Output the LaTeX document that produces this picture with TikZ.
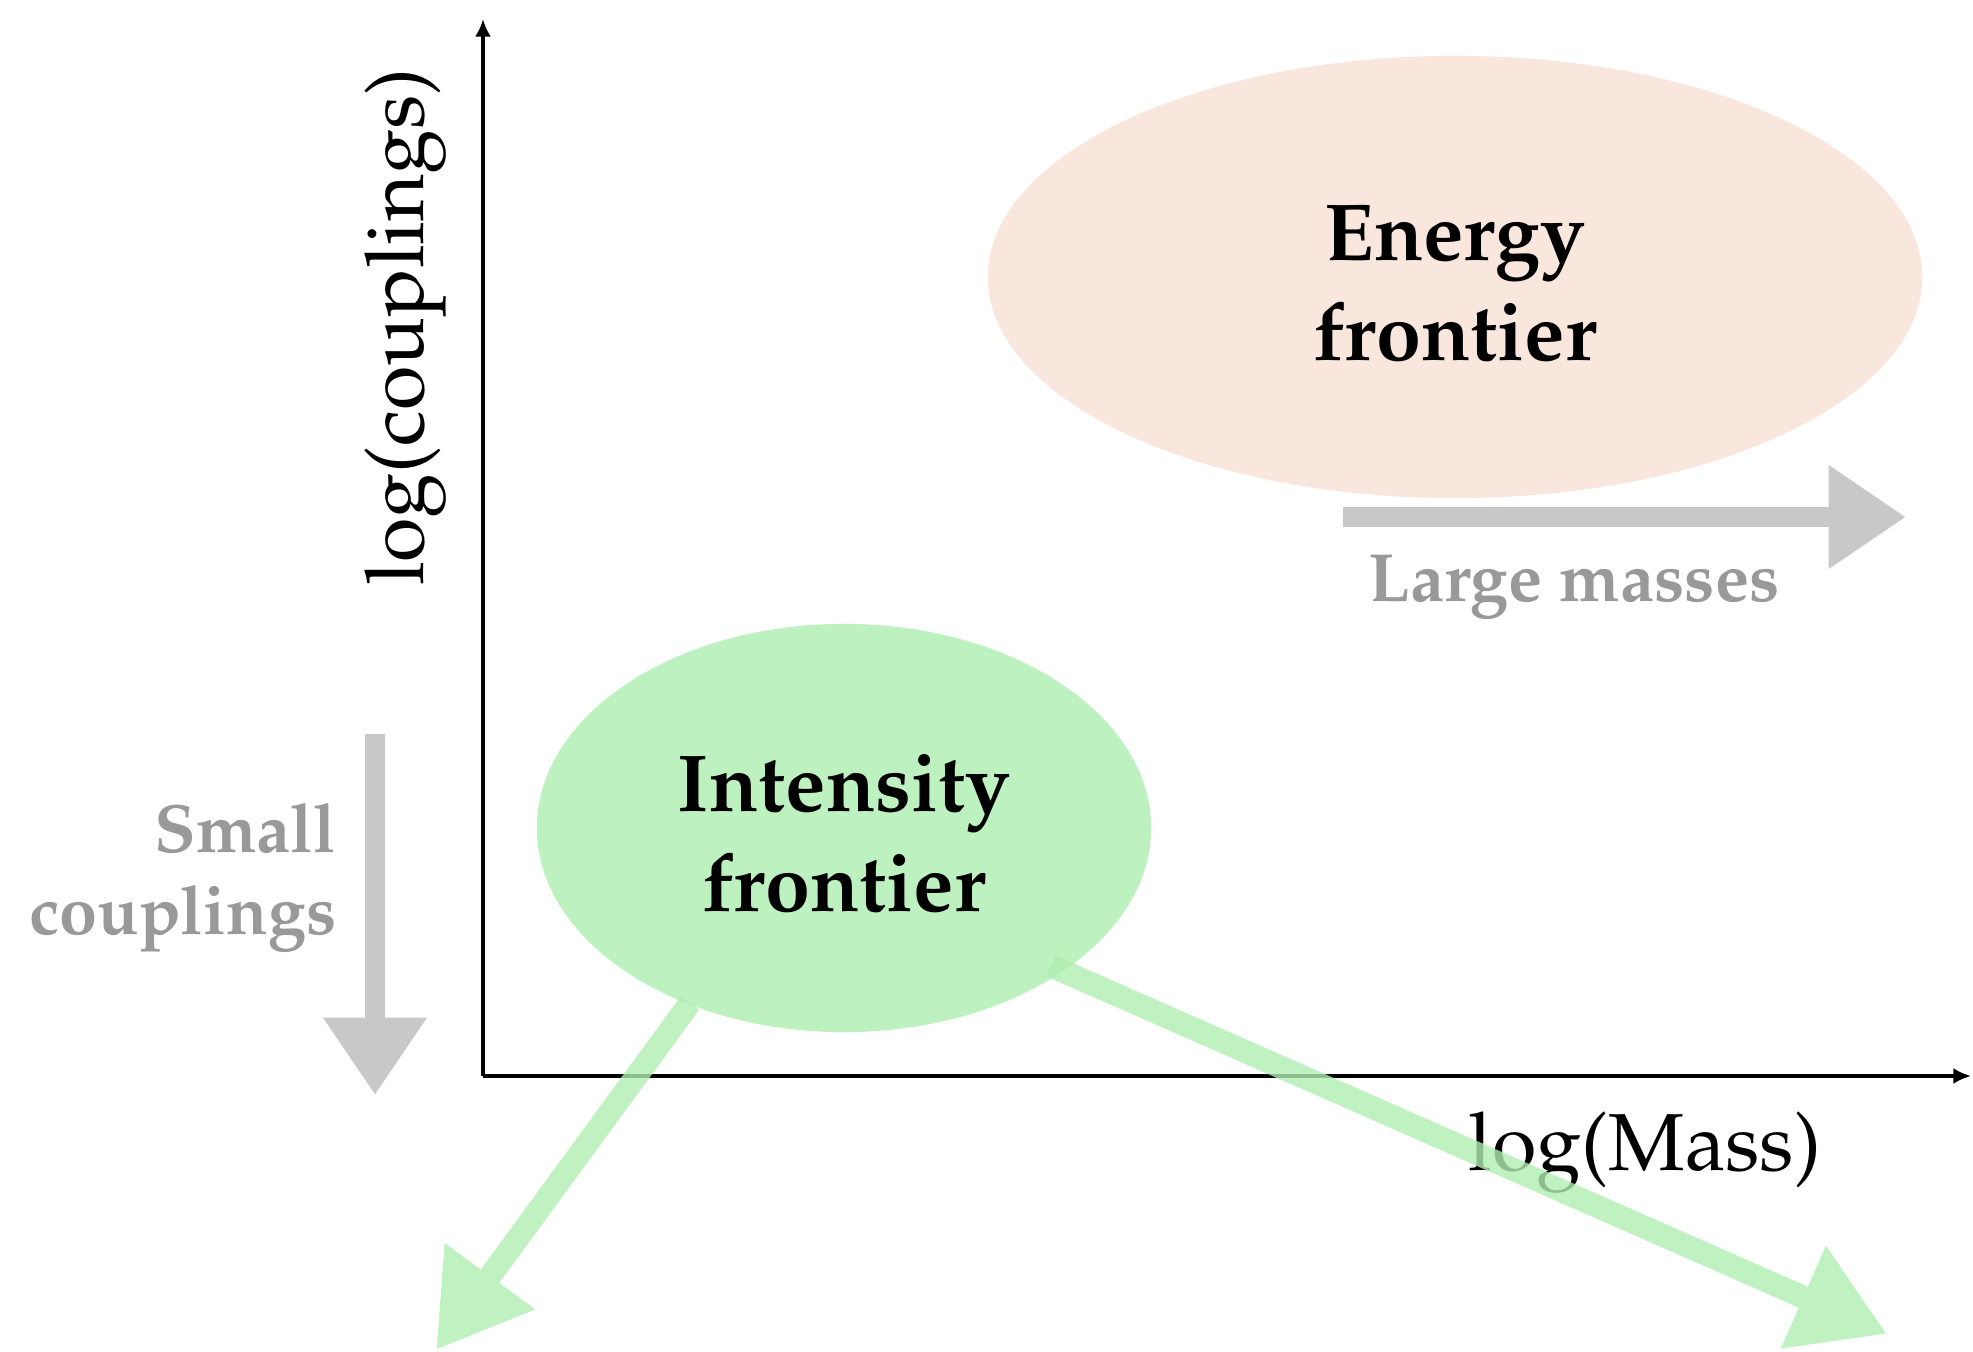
\documentclass[tikz,border=0pt]{standalone}
\usepackage[T1]{fontenc}
\usepackage{mathpazo}
\usetikzlibrary{arrows.meta,shapes.geometric}
\definecolor{peach}{HTML}{F9E7DE}
\definecolor{mint}{HTML}{BEF1C0}
\definecolor{arrowgray}{HTML}{C8C8C8}
\definecolor{textgray}{HTML}{999999}
\definecolor{arrowgreen}{HTML}{B0EEB2}
\tikzset{
  frontier/.style={ellipse, inner sep=0pt},
  frontiertext/.style={align=center, inner sep=0pt, font=\fontsize{23}{28.5}\selectfont\bfseries},
  axis/.style={line width=0.9pt, -{Latex[length=5pt,width=4.5pt]}},
  grayarrow/.style={draw=arrowgray, line width=5.5pt, -{Triangle[width=28pt,length=22pt]}},
  greenarrow/.style={draw=arrowgreen, line width=6.5pt, -{Triangle[width=30pt,length=26pt]}},
  axislabel/.style={font=\fontsize{23}{27}\selectfont},
  hint/.style={text=textgray, font=\fontsize{19.4}{23.5}\selectfont\bfseries}
}
\begin{document}
\begin{tikzpicture}[x=0.01cm,y=-0.01cm]
\useasboundingbox (0,0) rectangle (1973,1352);
% ellipses
\node[frontier, fill=peach, minimum width=9.34cm, minimum height=4.42cm] (energy) at (1455,277) {};
\node[frontiertext] (energytext) at ([yshift=-0.07cm]energy.center) {Energy\\frontier};
\node[frontier, fill=mint, minimum width=6.14cm, minimum height=4.08cm] (intensity) at (844,828) {};
\node[frontiertext] (intensitytext) at ([yshift=-0.06cm]intensity.center) {Intensity\\frontier};
% axes
\coordinate (O) at (483,1076);
\coordinate (xend) at (1971,1076);
\coordinate (yend) at (483,19);
\draw[axis] (O) -- (xend);
\draw[axis] (O) -- (yend);
\node[axislabel, rotate=90] (ylab) at (406,327) {log(couplings)};
\node[axislabel, anchor=base] (xlab) at (1645,1170) {log(Mass)};
% gray hints
\coordinate (lmA) at (1343,517);
\coordinate (lmB) at (1906,517);
\draw[grayarrow] (lmA) -- (lmB);
\node[hint, anchor=base] (lmtext) at (1574,601) {Large masses};
\coordinate (scA) at (375,734);
\coordinate (scB) at (375,1095);
\draw[grayarrow] (scA) -- (scB);
\node[hint, align=right, anchor=north east, inner sep=0pt] (sctext) at (337,802) {Small\\couplings};
% green arrows
\coordinate (g1A) at (690,1003);
\coordinate (g1B) at (436,1350);
\coordinate (g2A) at (1051,966);
\coordinate (g2B) at (1887,1334);
\begin{scope}[transparency group, opacity=0.8]
\draw[greenarrow] (g1A) -- (g1B);
\end{scope}
\begin{scope}[transparency group, opacity=0.8]
\draw[greenarrow] (g2A) -- (g2B);
\end{scope}
\end{tikzpicture}
\end{document}
